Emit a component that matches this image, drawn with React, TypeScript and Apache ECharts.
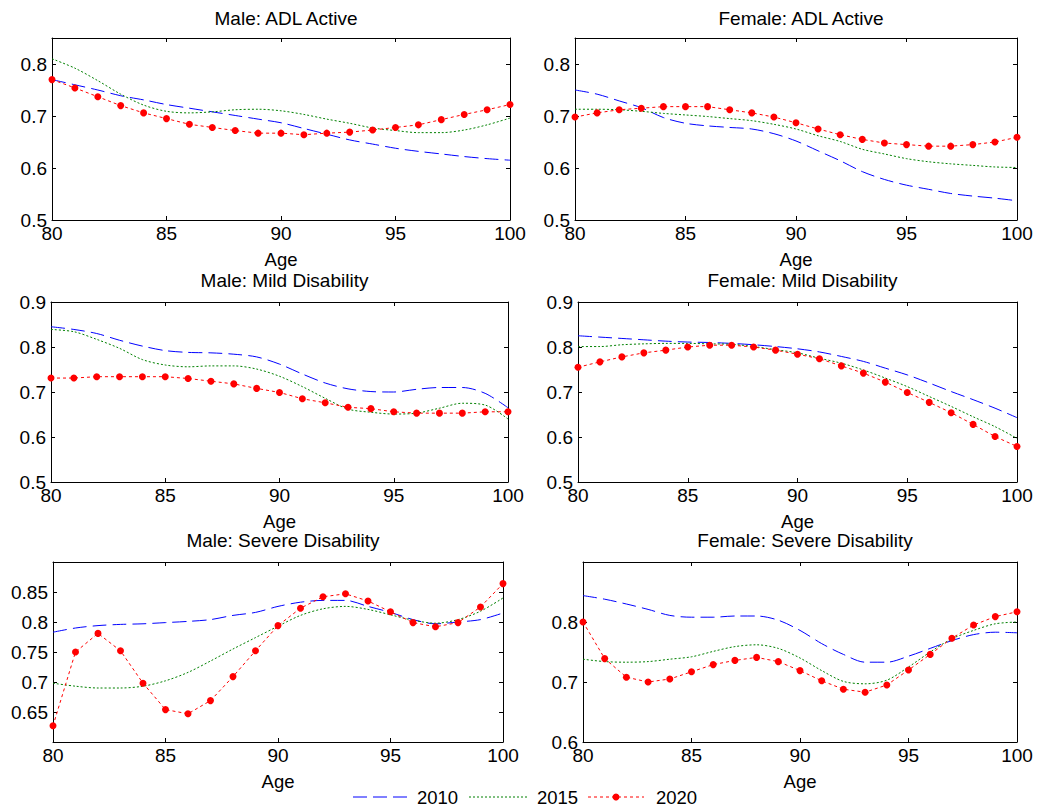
import React, { useEffect, useRef } from "react";
import * as echarts from "echarts";

const FONT = "'Liberation Sans', Arial, Helvetica, sans-serif";

const ages = [80, 81, 82, 83, 84, 85, 86, 87, 88, 89, 90, 91, 92, 93, 94, 95, 96, 97, 98, 99, 100];
const xTicks = [80, 85, 90, 95, 100];
const legendNames = ["2010", "2015", "2020"];

// Male: ADL Active
const maleAdl2010 = [0.770, 0.760, 0.750, 0.739, 0.731, 0.722, 0.715, 0.708, 0.701, 0.694, 0.687, 0.676, 0.665, 0.654, 0.646, 0.638, 0.632, 0.627, 0.622, 0.618, 0.615];
const maleAdl2015 = [0.810, 0.792, 0.768, 0.742, 0.721, 0.709, 0.706, 0.708, 0.712, 0.713, 0.710, 0.703, 0.694, 0.686, 0.677, 0.672, 0.668, 0.668, 0.673, 0.683, 0.696];
const maleAdl2020 = [0.770, 0.754, 0.737, 0.720, 0.706, 0.695, 0.684, 0.678, 0.672, 0.667, 0.667, 0.664, 0.667, 0.669, 0.673, 0.678, 0.683, 0.693, 0.703, 0.712, 0.722];

// Female: ADL Active
const femaleAdl2010 = [0.750, 0.742, 0.729, 0.716, 0.697, 0.686, 0.681, 0.678, 0.675, 0.666, 0.652, 0.633, 0.614, 0.593, 0.578, 0.567, 0.559, 0.551, 0.546, 0.542, 0.537];
const femaleAdl2015 = [0.713, 0.713, 0.712, 0.709, 0.705, 0.702, 0.699, 0.695, 0.691, 0.684, 0.675, 0.662, 0.651, 0.636, 0.627, 0.618, 0.612, 0.608, 0.605, 0.602, 0.601];
const femaleAdl2020 = [0.698, 0.706, 0.712, 0.715, 0.718, 0.718, 0.718, 0.712, 0.706, 0.698, 0.687, 0.675, 0.664, 0.655, 0.648, 0.645, 0.642, 0.642, 0.645, 0.650, 0.659];

// Male: Mild Disability
const maleMild2010 = [0.845, 0.839, 0.830, 0.815, 0.802, 0.792, 0.788, 0.787, 0.784, 0.778, 0.762, 0.740, 0.720, 0.707, 0.701, 0.700, 0.706, 0.710, 0.710, 0.697, 0.665];
const maleMild2015 = [0.839, 0.834, 0.817, 0.797, 0.772, 0.760, 0.756, 0.758, 0.758, 0.751, 0.735, 0.712, 0.686, 0.662, 0.655, 0.651, 0.653, 0.664, 0.675, 0.671, 0.640];
const maleMild2020 = [0.731, 0.731, 0.734, 0.734, 0.734, 0.734, 0.730, 0.724, 0.718, 0.708, 0.699, 0.685, 0.676, 0.666, 0.663, 0.656, 0.653, 0.653, 0.653, 0.656, 0.656];

// Female: Mild Disability
const femaleMild2010 = [0.825, 0.822, 0.819, 0.816, 0.813, 0.811, 0.810, 0.808, 0.805, 0.801, 0.796, 0.789, 0.779, 0.768, 0.753, 0.738, 0.720, 0.701, 0.683, 0.664, 0.643];
const femaleMild2015 = [0.801, 0.801, 0.805, 0.807, 0.808, 0.808, 0.807, 0.806, 0.801, 0.794, 0.787, 0.775, 0.764, 0.749, 0.731, 0.712, 0.690, 0.668, 0.645, 0.623, 0.597];
const femaleMild2020 = [0.755, 0.767, 0.778, 0.787, 0.793, 0.800, 0.804, 0.804, 0.800, 0.793, 0.784, 0.774, 0.758, 0.742, 0.722, 0.699, 0.677, 0.654, 0.628, 0.601, 0.579];

// Male: Severe Disability
const maleSevere2010 = [0.783, 0.790, 0.794, 0.796, 0.797, 0.799, 0.801, 0.804, 0.811, 0.816, 0.826, 0.833, 0.836, 0.836, 0.826, 0.816, 0.804, 0.797, 0.800, 0.804, 0.815];
const maleSevere2015 = [0.698, 0.693, 0.690, 0.690, 0.693, 0.702, 0.716, 0.735, 0.755, 0.774, 0.793, 0.811, 0.822, 0.826, 0.821, 0.812, 0.803, 0.798, 0.804, 0.818, 0.840];
const maleSevere2020 = [0.627, 0.750, 0.781, 0.752, 0.698, 0.654, 0.647, 0.669, 0.709, 0.752, 0.794, 0.823, 0.842, 0.847, 0.835, 0.817, 0.799, 0.792, 0.799, 0.825, 0.864];

// Female: Severe Disability
const femaleSevere2010 = [0.844, 0.838, 0.830, 0.821, 0.811, 0.808, 0.808, 0.810, 0.810, 0.803, 0.786, 0.764, 0.746, 0.733, 0.733, 0.743, 0.756, 0.769, 0.779, 0.783, 0.782];
const femaleSevere2015 = [0.738, 0.734, 0.733, 0.734, 0.738, 0.742, 0.751, 0.759, 0.762, 0.756, 0.740, 0.719, 0.701, 0.697, 0.703, 0.725, 0.750, 0.772, 0.786, 0.797, 0.800];
const femaleSevere2020 = [0.800, 0.739, 0.708, 0.700, 0.705, 0.717, 0.729, 0.736, 0.741, 0.734, 0.719, 0.702, 0.688, 0.683, 0.695, 0.720, 0.746, 0.773, 0.795, 0.809, 0.817];

const titles = [
  "Male: ADL Active",
  "Female: ADL Active",
  "Male: Mild Disability",
  "Female: Mild Disability",
  "Male: Severe Disability",
  "Female: Severe Disability",
];

const yRanges = [
  [0.5, 0.85],
  [0.5, 0.85],
  [0.5, 0.9],
  [0.5, 0.9],
  [0.6, 0.9],
  [0.6, 0.9],
];
const yIntervals = [0.1, 0.1, 0.1, 0.1, 0.05, 0.1];
const yTickLabels = [
  [0.5, 0.6, 0.7, 0.8],
  [0.5, 0.6, 0.7, 0.8],
  [0.5, 0.6, 0.7, 0.8, 0.9],
  [0.5, 0.6, 0.7, 0.8, 0.9],
  [0.65, 0.7, 0.75, 0.8, 0.85],
  [0.6, 0.7, 0.8],
];

const seriesData = [
  [maleAdl2010, maleAdl2015, maleAdl2020],
  [femaleAdl2010, femaleAdl2015, femaleAdl2020],
  [maleMild2010, maleMild2015, maleMild2020],
  [femaleMild2010, femaleMild2015, femaleMild2020],
  [maleSevere2010, maleSevere2015, maleSevere2020],
  [femaleSevere2010, femaleSevere2015, femaleSevere2020],
];

// layout (pixels)
const grids = [
  { left: 52, top: 38, width: 458, height: 182 },
  { left: 575, top: 38, width: 442, height: 182 },
  { left: 51, top: 302, width: 457, height: 180 },
  { left: 578, top: 302, width: 439, height: 180 },
  { left: 53, top: 562, width: 450, height: 180 },
  { left: 583, top: 562, width: 434, height: 180 },
];
const titleTops = [4, 266, 266, 266, 526, 526];
titleTops[1] = 4;

const COLORS = ["#0000ff", "#008000", "#ff0000"];
const DASHES = [[14, 6], [2, 2], [3, 3]];

const toPairs = (vals: number[]) => ages.map((a, i) => [a, vals[i]]);

function buildOption() {
  const xAxis: any[] = [];
  const yAxis: any[] = [];
  const series: any[] = [];
  const title: any[] = [];
  const axisLine = { show: true, onZero: false, lineStyle: { color: "#000", width: 1 } };
  const axisTick = { show: true, inside: true, length: 4, lineStyle: { color: "#000", width: 1 } };

  grids.forEach((g, i) => {
    title.push({
      text: titles[i],
      left: g.left + g.width / 2,
      top: titleTops[i],
      textAlign: "center",
      textStyle: { fontSize: 19, fontWeight: "normal", fontFamily: FONT, color: "#000" },
    });
    const [ymin, ymax] = yRanges[i];
    const ticks = yTickLabels[i];
    xAxis.push({
      type: "value",
      gridIndex: i,
      position: "bottom",
      min: 80,
      max: 100,
      interval: 5,
      name: "Age",
      nameLocation: "middle",
      nameGap: 30,
      nameTextStyle: { fontSize: 18.5, fontFamily: FONT, color: "#000" },
      axisLine,
      axisTick,
      splitLine: { show: false },
      axisLabel: {
        fontSize: 19,
        fontFamily: FONT,
        color: "#000",
        margin: 4,
        formatter: (v: number) => (xTicks.includes(Math.round(v)) ? String(Math.round(v)) : ""),
      },
    });
    xAxis.push({
      type: "value",
      gridIndex: i,
      position: "top",
      min: 80,
      max: 100,
      interval: 5,
      axisLine,
      axisTick,
      splitLine: { show: false },
      axisLabel: { show: false },
    });
    const fmt = (v: number) =>
      ticks.some((t) => Math.abs(t - v) < 1e-6) ? String(parseFloat(v.toFixed(2))) : "";
    yAxis.push({
      type: "value",
      gridIndex: i,
      position: "left",
      min: ymin,
      max: ymax,
      interval: yIntervals[i],
      axisLine,
      axisTick,
      splitLine: { show: false },
      axisLabel: { fontSize: 19, fontFamily: FONT, color: "#000", margin: 5, formatter: fmt },
    });
    yAxis.push({
      type: "value",
      gridIndex: i,
      position: "right",
      min: ymin,
      max: ymax,
      interval: yIntervals[i],
      axisLine,
      axisTick,
      splitLine: { show: false },
      axisLabel: { show: false },
    });

    seriesData[i].forEach((vals, k) => {
      const isMarked = k === 2;
      series.push({
        name: legendNames[k],
        type: "line",
        xAxisIndex: 2 * i,
        yAxisIndex: 2 * i,
        data: toPairs(vals),
        smooth: isMarked ? false : 0.3,
        symbol: isMarked ? "circle" : "none",
        symbolSize: 7,
        lineStyle: { color: COLORS[k], width: 1, type: DASHES[k] },
        itemStyle: { color: COLORS[k] },
        z: 2 + k,
      });
    });
  });

  // legend drawn as graphic elements
  const legendY = 797;
  const legendItems = [
    { x1: 353, x2: 411, tx: 417 },
    { x1: 469, x2: 529, tx: 537 },
    { x1: 588, x2: 644, tx: 656 },
  ];
  const graphic: any[] = [];
  legendItems.forEach((it, k) => {
    graphic.push({
      type: "line",
      shape: { x1: it.x1, y1: legendY, x2: it.x2, y2: legendY },
      style: { stroke: COLORS[k], lineWidth: 1, lineDash: DASHES[k] },
    });
    if (k === 2) {
      graphic.push({
        type: "circle",
        shape: { cx: (it.x1 + it.x2) / 2, cy: legendY, r: 3.5 },
        style: { fill: COLORS[k] },
      });
    }
    graphic.push({
      type: "text",
      x: it.tx,
      y: legendY,
      style: {
        text: legendNames[k],
        fontSize: 18.5,
        fontFamily: FONT,
        fill: "#000",
        verticalAlign: "middle",
        textVerticalAlign: "middle",
      },
    });
  });

  return {
    animation: false,
    backgroundColor: "#ffffff",
    title,
    grid: grids.map((g) => ({ ...g, containLabel: false })),
    xAxis,
    yAxis,
    series,
    graphic,
  };
}

export default function App() {
  const ref = useRef<HTMLDivElement>(null);
  useEffect(() => {
    if (!ref.current) return;
    const chart = echarts.init(ref.current, undefined, { renderer: "svg" });
    chart.setOption(buildOption() as any);
    return () => chart.dispose();
  }, []);
  return (
    <div
      ref={ref}
      style={{ position: "absolute", left: 0, top: 0, width: 1037, height: 812, background: "#fff" }}
    />
  );
}
